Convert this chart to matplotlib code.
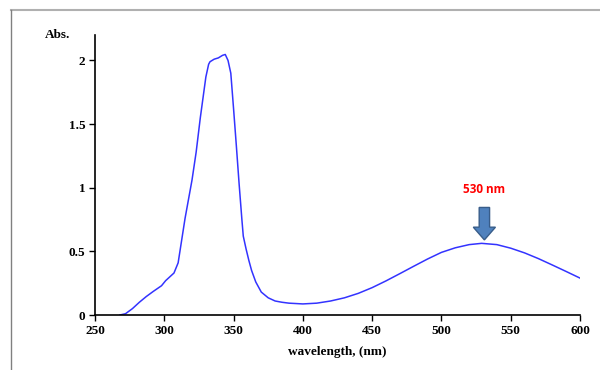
import matplotlib
matplotlib.use('Agg')
import matplotlib.pyplot as plt
from matplotlib.lines import Line2D
from matplotlib.patches import FancyArrow

wavelength = [268, 272, 277, 282, 287, 292, 298, 301, 304, 307, 310, 312, 315,
              320, 323, 326, 328, 330, 332, 333, 336, 339, 342, 344, 346, 348,
              350, 352, 354, 356, 357, 359, 361, 363, 366, 370, 375, 380, 385,
              390, 400, 410, 420, 430, 440, 450, 460, 470, 480, 490, 500, 510,
              520, 529, 540, 550, 560, 570, 580, 590, 600]
absorbance = [0.0, 0.01, 0.05, 0.10, 0.145, 0.185, 0.23, 0.27, 0.30, 0.33, 0.41,
              0.55, 0.76, 1.06, 1.28, 1.55, 1.71, 1.87, 1.97, 1.99, 2.01, 2.02,
              2.04, 2.047, 2.00, 1.90, 1.62, 1.33, 1.03, 0.75, 0.62, 0.52, 0.43,
              0.35, 0.26, 0.18, 0.135, 0.11, 0.10, 0.093, 0.087, 0.093, 0.11,
              0.135, 0.17, 0.215, 0.268, 0.325, 0.383, 0.44, 0.492, 0.528, 0.553,
              0.563, 0.553, 0.525, 0.488, 0.443, 0.393, 0.342, 0.29]
xticks = [250, 300, 350, 400, 450, 500, 550, 600]
yticks = [0, 0.5, 1, 1.5, 2]
yticklabels = ['0', '0.5', '1', '1.5', '2']
peak_label = '530 nm'
peak_x = 529

serif = ['Liberation Serif', 'DejaVu Serif']

fig = plt.figure(figsize=(6, 3.7), dpi=100)
ax = fig.add_axes([95/600, 1-315/370, 485/600, 280/370])

ax.plot(wavelength, absorbance, color='#3333ff', lw=1.1)

ax.set_xlim(250, 600)
ax.set_ylim(0, 2.2)
ax.set_xticks(xticks)
ax.set_yticks(yticks)
ax.set_yticklabels(yticklabels)
for lab in ax.get_xticklabels() + ax.get_yticklabels():
    lab.set_family(serif)
    lab.set_fontweight('bold')
    lab.set_fontsize(9.5)
ax.tick_params(direction='out', length=4, width=1, pad=3)
ax.spines['top'].set_visible(False)
ax.spines['right'].set_visible(False)
ax.spines['left'].set_linewidth(1.2)
ax.spines['bottom'].set_linewidth(1.2)

ax.set_xlabel('wavelength, (nm)', family=serif, fontweight='bold', fontsize=9.5, labelpad=7)
fig.text(58/600, 1-35/370, 'Abs.', family=serif, fontweight='bold', fontsize=9.5,
         ha='center', va='center')

# arrow pointing at the 530 nm maximum
ax.add_patch(FancyArrow(peak_x + 2, 0.845, 0, -0.255, width=7.5, head_width=16,
                        head_length=0.1, length_includes_head=True,
                        facecolor='#4f81bd', edgecolor='#385d8a', lw=1))
ax.text(peak_x + 2, 0.985, peak_label, color='red', fontweight='bold', fontsize=8.5,
        family=['Open Sans', 'DejaVu Sans'], ha='center', va='center')

# outer frame
fig.add_artist(Line2D([11/600, 1], [1-10/370, 1-10/370], color='#b0b0b0', lw=1.5))
fig.add_artist(Line2D([11/600, 11/600], [0, 1-10/370], color='#808080', lw=1))

fig.savefig('out.png', dpi=100)
